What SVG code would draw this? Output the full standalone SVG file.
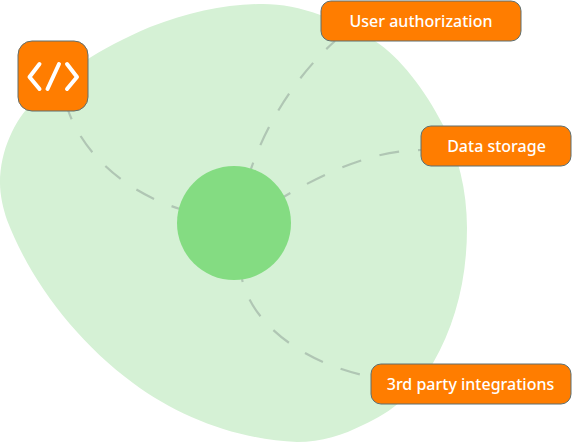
<svg xmlns="http://www.w3.org/2000/svg" width="572" height="442" viewBox="0 0 572 442">
<style>
.box{fill:#ff7d00;stroke:#5f6f6f;stroke-width:1}
.lbl{font-family:"Noto Sans","Open Sans",sans-serif;font-size:16px;font-weight:500;fill:#fff;text-anchor:middle}
.con{fill:none;stroke:#b0c6b4;stroke-width:2.2;stroke-dasharray:20 19}
.ic{fill:none;stroke:#fff;stroke-width:4;stroke-linecap:round;stroke-linejoin:round}
</style>
<path id="blob" d="M0 183C0 150 15 120 33 102C60 75 100 48 150 27C190 12 225 4 263 4C300 4 340 20 375 41C400 57 425 90 443 125C458 155 467 190 467 228C467 280 455 325 433 363C415 393 392 412 363 425C343 435 322 442 297 442C240 440 180 418 133 383C75 340 30 280 7 220C3 208 0 195 0 183Z" fill="#d5f1d5"/>
<g id="connectors">
<path class="con" stroke-dashoffset="10" d="M68 110C82 150 120 190 180 209"/>
<path class="con" stroke-dashoffset="8" d="M335 41C300 72 267 120 250 172"/>
<path class="con" stroke-dashoffset="17" d="M421 150C375 150 325 172 282 198"/>
<path class="con" stroke-dashoffset="17" d="M242 279C252 325 305 363 367 376"/>
</g>
<g id="center"><circle cx="234" cy="223" r="57" fill="#84dc82"/></g>
<g id="code-node">
<rect class="box" x="18" y="41" width="70" height="70" rx="14"/>
<path class="ic" d="M39.500 64L29.500 77L39.500 89M59 64L47.500 89M67 64L77 77L67 89"/>
</g>
<g id="user-authorization">
<rect class="box" x="321" y="1" width="200" height="40" rx="10"/>
<text class="lbl" x="421" y="26.500">User authorization</text>
</g>
<g id="data-storage">
<rect class="box" x="421" y="126" width="150" height="40" rx="10"/>
<text class="lbl" x="496.500" y="151.500">Data storage</text>
</g>
<g id="third-party">
<rect class="box" x="371" y="364" width="200" height="40" rx="10"/>
<text class="lbl" x="470.500" y="389.500">3rd party integrations</text>
</g>
</svg>
